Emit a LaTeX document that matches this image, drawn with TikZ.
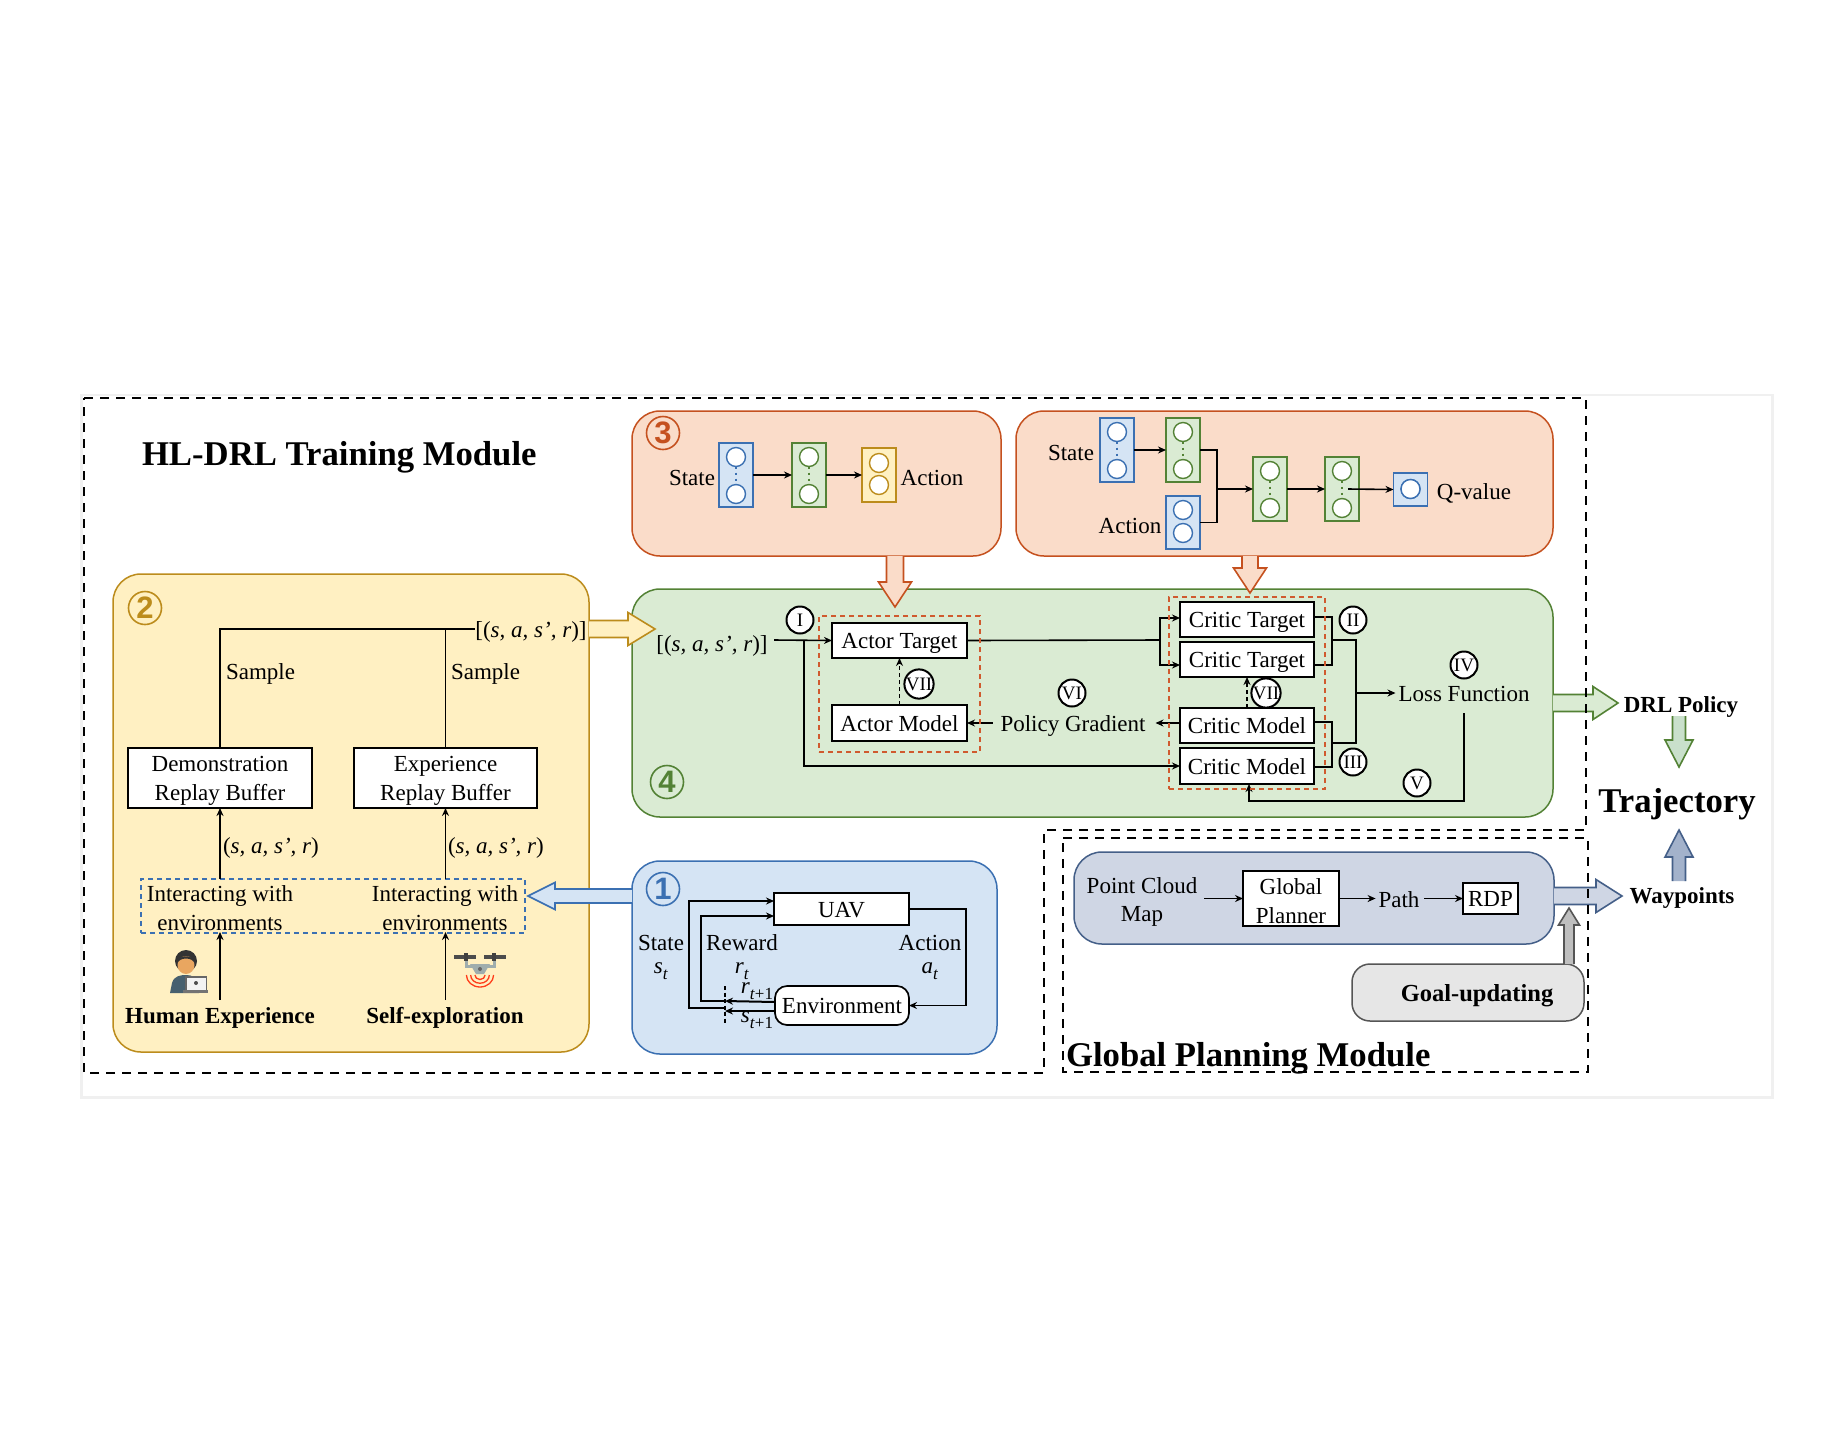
\documentclass[tikz,border=0pt]{standalone}
\usepackage{fontspec}
\setmainfont{Liberation Serif}
\newfontfamily\numfont{Liberation Sans}
\usetikzlibrary{arrows.meta,calc,shapes.geometric}
\definecolor{yelF}{HTML}{FFF0C2}\definecolor{yelD}{HTML}{BC8C1C}
\definecolor{oraF}{HTML}{FADCC9}\definecolor{oraD}{HTML}{C5511F}
\definecolor{greF}{HTML}{DAEBD3}\definecolor{greD}{HTML}{538235}
\definecolor{bluF}{HTML}{D5E4F4}\definecolor{bluD}{HTML}{3B70B2}
\definecolor{plaF}{HTML}{CFD6E4}\definecolor{plaD}{HTML}{445F88}
\definecolor{gryF}{HTML}{E6E6E6}\definecolor{gryD}{HTML}{555555}
\definecolor{traF}{HTML}{C9E0CB}\definecolor{upF}{HTML}{A3B2CB}
\definecolor{redD}{HTML}{D05A2E}
\newcommand{\fsz}[1]{\fontsize{#1}{#1}\selectfont}
\newcommand{\sbs}[1]{\smash{\raisebox{-0.28em}{\fontsize{17}{17}\selectfont #1}}}
\newcommand{\tup}{(\textit{s, a, s’, r})}
\newcommand{\lifted}{\rule{0pt}{21pt}}
\tikzset{
 x=1pt,y=-1pt,
 txt/.style={inner sep=0pt,outer sep=0pt,align=center,text height=17pt,text depth=1pt,font=\fontsize{23}{28.5}\selectfont},
 ml/.style={text height={},text depth={}},
 btxt/.style={txt,font=\fontsize{23}{29}\selectfont\bfseries},
 title/.style={txt,text height=24pt,text depth=1pt,font=\fontsize{34.7}{35}\selectfont\bfseries},
 bx/.style={draw=black,fill=white,line width=1.7pt,inner sep=0pt,outer sep=0pt,align=center,text height=17pt,text depth=1pt,font=\fontsize{23}{28.5}\selectfont},
 panel/.style={draw=#1D,fill=#1F,line width=1.5pt,rounded corners=28pt,inner sep=0pt,outer sep=0pt},
 arr/.style={-{Stealth[length=8pt,width=7pt]},line width=1.6pt,black},
 lin/.style={line width=1.6pt,black},
 dash arr/.style={arr,dash pattern=on 4pt off 3pt},
 outerdash/.style={line width=2.6pt,dash pattern=on 9pt off 7pt,black},
 reddash/.style={draw=redD,line width=1.5pt,dash pattern=on 5pt off 4pt},
 circ/.style={circle,draw=#1D,text=#1D,fill=none,line width=1.6pt,minimum size=33pt,inner sep=0pt,font=\fsz{31}\numfont\bfseries},
 rom/.style={circle,draw=black,fill=white,line width=2pt,minimum size=27pt,inner sep=0pt,font=\fsz{19}},
 nnb/.style={draw=#1D,fill=#1F,line width=1.6pt,minimum width=34pt,inner sep=0pt,outer sep=0pt},
 nnc/.style={circle,draw=#1D,fill=white,line width=1.4pt,minimum size=19pt,inner sep=0pt,outer sep=0pt},
}
% name, cx, y0, y1, cy1, cy2, colour
\newcommand{\nnlayer}[7]{%
 \node[nnb=#7,minimum height={#4-#3}] (#1) at ({#2},{(#3+#4)/2}) {};
 \node[nnc=#7] (#1a) at (#2,#5) {};
 \node[nnc=#7] (#1b) at (#2,#6) {};}
% style, start, tip, half shaft, half head, head length
\newcommand{\blockarr}[6]{%
 \coordinate (ba) at ($(#3)!#6pt!(#2)$);
 \fill[#1,draw=none] ($(#2)!#4pt!90:(#3)$) -- ($(ba)!#4pt!90:(#3)$) -- ($(ba)!#5pt!90:(#3)$) -- (#3)
  -- ($(ba)!#5pt!-90:(#3)$) -- ($(ba)!#4pt!-90:(#3)$) -- ($(#2)!#4pt!-90:(#3)$) -- cycle;
 \draw[#1,fill=none,line width=1.6pt,line join=miter]
  ($(#2)!#4pt!90:(#3)$) -- ($(ba)!#4pt!90:(#3)$) -- ($(ba)!#5pt!90:(#3)$) -- (#3)
  -- ($(ba)!#5pt!-90:(#3)$) -- ($(ba)!#4pt!-90:(#3)$) -- ($(#2)!#4pt!-90:(#3)$);}
\begin{document}
\begin{tikzpicture}
\useasboundingbox (0,0) rectangle (1848,1444);
\fill[white] (0,0) rectangle (1848,1444);
% sheet
\fill[black!6] (80,394) rectangle (1774,1099);
\fill[white] (83,396) rectangle (1771,1096);

% panels
\node[panel=yel,minimum width=476pt,minimum height=478pt] (box2) at (351,813) {};
\node[panel=ora,minimum width=369pt,minimum height=145pt] (box3a) at (816.5,483.5) {};
\node[panel=ora,minimum width=537pt,minimum height=145pt] (box3b) at (1284.5,483.5) {};
\node[panel=gre,minimum width=921pt,minimum height=228pt] (box4) at (1092.5,703) {};
\node[panel=blu,minimum width=365pt,minimum height=193pt] (box1) at (814.5,957.5) {};
\node[panel=pla,minimum width=480pt,minimum height=92pt] (boxp) at (1314,898) {};
\node[draw=gryD,fill=gryF,line width=1.5pt,rounded corners=18pt,minimum width=232pt,minimum height=57pt,inner sep=0pt,outer sep=0pt] (goal) at (1468,992.5) {};

% titles
\node[title,anchor=west] (t1) at (142,453.5) {HL-DRL Training Module};
\node[title,anchor=west] (t2) at (1066,1055) {Global Planning Module};
\node[title] (traj) at (1677,801) {Trajectory};
\node[btxt] (drl) at (1681,704) {DRL Policy};
\node[btxt] (wayp) at (1682,895) {Waypoints};
\node[btxt,font=\fontsize{24.5}{29}\selectfont\bfseries] (goalt) at (1477,993) {Goal-updating};

% circled numbers
\node[circ=blu] (n1) at (663,889) {1};
\node[circ=yel] (n2) at (145,608) {2};
\node[circ=ora] (n3) at (663,433) {3};
\node[circ=gre] (n4) at (667,782) {4};

%%% panel 2
\node[txt] (list2) at (531,629) {[\tup]};
\node[bx,ml,minimum width=184pt,minimum height=60pt] (demo) at (220,778) {\lifted Demonstration\\Replay Buffer};
\node[bx,ml,minimum width=183pt,minimum height=60pt] (expb) at (445.5,778) {\lifted Experience\\Replay Buffer};
\node[txt,anchor=west] (sa) at (226,671) {Sample};
\node[txt,anchor=west] (sb) at (451,671) {Sample};
\node[txt,anchor=west] (ta) at (223,845) {\tup};
\node[txt,anchor=west] (tb) at (448,845) {\tup};
\node[draw=bluD,line width=1.4pt,dash pattern=on 5pt off 4pt,minimum width=384pt,minimum height=54pt,inner sep=0pt,outer sep=0pt] (inter) at (333,906) {};
\node[txt,ml] (ia) at (220,908) {Interacting with\\environments};
\node[txt,ml] (ib) at (445,908) {Interacting with\\environments};
\node[btxt] (hum) at (220,1015) {Human Experience};
\node[btxt] (self) at (445,1015) {Self-exploration};
\draw[lin] (demo.north) |- (list2.west);
\draw[lin] (expb.north) -- (expb.north |- list2.west);
\draw[arr] (demo.south |- inter.north) -- (demo.south);
\draw[arr] (expb.south |- inter.north) -- (expb.south);
\draw[arr] ([yshift=6pt]hum.north -| demo.south) -- ([yshift=1pt]demo.south |- inter.south);
\draw[arr] ([yshift=6pt]self.north -| expb.south) -- ([yshift=1pt]expb.south |- inter.south);

% person icon
\definecolor{skinC}{HTML}{E9A660}\definecolor{hairC}{HTML}{333333}\definecolor{shirtC}{HTML}{47606F}
\fill[shirtC] (170,993) -- (172,983) .. controls (174,976) and (180,975) .. (186,975) .. controls (192,975) and (197,977) .. (199,985) -- (199,993) -- cycle;
\fill[hairC] (186,961) circle (11);
\fill[skinC] (186,965) ellipse (8.5 and 9);
\fill[hairC] (177.5,963) .. controls (180,957) and (192,957) .. (194.5,963) .. controls (196,954) and (176,954) .. (177.5,963) -- cycle;
\fill[black!60] (185,976) rectangle (207,991);
\fill[black!5] (187,978) rectangle (206,990);
\fill[black!70] (196,983) circle (2);
\fill[black!55] (183,990) rectangle (208,993);
% drone icon
\definecolor{armC}{HTML}{9FADAD}
\draw[line width=3pt,armC] (466,958) -- (466,966) -- (494,966) -- (494,958);
\fill[armC] (470,964) -- (490,964) -- (484,974) -- (476,974) -- cycle;
\fill[black!70] (454,955) rectangle (476,959);
\fill[black!70] (484,955) rectangle (506,959);
\fill[black!75] (464,953) rectangle (468,961);
\fill[black!75] (492,953) rectangle (496,961);
\fill[black!60] (480,969) circle (2);
\foreach \r in {6,11,16}{\draw[red!70!orange!90!white,line width=1.3pt] (480-\r*0.85,975) arc (180:360:\r*0.85 and -\r*0.75);}

%%% panel 3a
\node[txt] (sta) at (692,477) {State};
\nnlayer{a1}{736}{443}{507}{457}{494}{blu}
\nnlayer{a2}{809}{443}{507}{457}{494}{gre}
\nnlayer{a3}{879}{448}{502}{463}{485}{yel}
\draw[bluD,line width=1.8pt,dash pattern=on 2pt off 4pt] (a1a) -- (a1b);
\draw[greD,line width=1.8pt,dash pattern=on 2pt off 4pt] (a2a) -- (a2b);
\node[txt] (act) at (932,477) {Action};
\draw[arr] (a1.east) -- (a2.west);
\draw[arr] (a2.east) -- (a3.west);

%%% panel 3b
\node[txt] (stb) at (1071,452) {State};
\node[txt] (acb) at (1130,525) {Action};
\nnlayer{b1}{1117}{418}{482}{432}{469}{blu}
\nnlayer{b2}{1183}{418}{482}{432}{469}{gre}
\nnlayer{b3}{1183}{496}{549}{510}{533}{blu}
\nnlayer{b4}{1270}{457}{521}{471}{508}{gre}
\nnlayer{b5}{1342}{457}{521}{471}{508}{gre}
\nnlayer{b6}{1410.5}{473}{506}{489}{489}{blu}
\draw[bluD,line width=1.8pt,dash pattern=on 2pt off 4pt] (b1a) -- (b1b);
\draw[greD,line width=1.8pt,dash pattern=on 2pt off 4pt] (b2a) -- (b2b);
\draw[greD,line width=1.8pt,dash pattern=on 2pt off 4pt] (b4a) -- (b4b);
\draw[greD,line width=1.8pt,dash pattern=on 2pt off 4pt] (b5a) -- (b5b);
\node[txt] (qv) at (1474,491) {Q-value};
\coordinate (jn) at (1217,489);
\draw[arr] (b1.east) -- (b2.west);
\draw[lin] (b2.east) -| (jn);
\draw[lin] (b3.east) -| (jn);
\draw[arr] (jn) -- (b4.west);
\draw[arr] (b4.east) -- (b5.west);
\draw[arr] ([xshift=-11pt]b5.east) -- (b6.west);

%%% panel 4
\node[txt] (list4) at (712,643) {[\tup]};
\node[bx,minimum width=135pt,minimum height=35pt] (at) at (899.5,640.5) {Actor Target};
\node[bx,minimum width=135pt,minimum height=36pt] (am) at (899.5,723) {Actor Model};
\node[bx,minimum width=134pt,minimum height=35pt] (ct1) at (1247,619.5) {Critic Target};
\node[bx,minimum width=134pt,minimum height=35pt] (ct2) at (1247,659.5) {Critic Target};
\node[bx,minimum width=134pt,minimum height=35pt] (cm1) at (1247,725.5) {Critic Model};
\node[bx,minimum width=134pt,minimum height=36pt] (cm2) at (1247,766) {Critic Model};
\node[txt] (pg) at (1073,723) {Policy Gradient};
\node[txt] (loss) at (1464,693) {Loss Function};
\node[rom] (r1) at (800,620) {I};
\node[rom] (r7a) at (919,684) {VII};
\node[rom] (r6) at (1072,693) {VI};
\node[rom] (r2) at (1353,620) {II};
\node[rom] (r3) at (1353,762) {III};
\node[rom] (r4) at (1464,665) {IV};
\node[rom] (r5) at (1417,783) {V};
\coordinate (l4e) at (774,640);
\coordinate (jS) at (804,640);
\coordinate (jA) at (1160,640);
\coordinate (jT) at (1332,640);
\coordinate (jR) at (1356,693);
\coordinate (jM) at (1332,743);
\coordinate (lb) at (1249,801);
\draw[arr] (l4e) -- (at.west);
\draw[arr] (jS) |- (cm2.west);
\draw[lin] (at.east) -- (jA);
\draw[arr] (jA) |- ([yshift=1.5pt]ct1.west);
\draw[arr] (jA) |- ([yshift=-5.5pt]ct2.west);
\draw[lin] ([yshift=2.5pt]ct1.east) -- ++(18,0) |- ([yshift=-5.5pt]ct2.east);
\draw[lin] ([yshift=3.5pt]cm1.east) -- ++(18,0) |- ([yshift=-1pt]cm2.east);
\draw[lin] (jT) -| (jR) |- (jM);
\draw[arr] (jR) -- ([xshift=-3pt]loss.west);
\draw[arr] ([yshift=-11pt]loss.south) |- (lb) -- ([xshift=2pt]cm2.south);
\draw[arr] ([xshift=-8pt]pg.west) -- (pg.west -| am.east);
\draw[arr] (pg.east -| cm1.west) -- ([xshift=10pt]pg.east);
\draw[dash arr] (am.north) -- (at.south);
\draw[dash arr] (cm1.north) -- (ct2.south);
\node[rom] (r7b) at (1266,693) {VII};
\node[reddash,minimum width=161pt,minimum height=136pt,inner sep=0pt] (ra) at (899.5,684) {};
\node[reddash,minimum width=156pt,minimum height=192pt,inner sep=0pt] (rb) at (1247,693) {};

%%% panel 1
\node[bx,minimum width=135pt,minimum height=32pt] (uav) at (841.5,909) {UAV};
\node[bx,rounded corners=12pt,minimum width=134pt,minimum height=39pt] (env) at (842,1005.5) {Environment};
\node[txt,ml,font=\fontsize{23}{23}\selectfont] (st) at (661,954) {State\\\textit{s}\sbs{\textit{t}}};
\node[txt,ml,font=\fontsize{23}{23}\selectfont] (rw) at (742,954) {Reward\\\textit{r}\sbs{\textit{t}}};
\node[txt,ml,font=\fontsize{23}{23}\selectfont] (ac) at (930,954) {Action\\\textit{a}\sbs{\textit{t}}};
\node[txt,anchor=east] (rt1) at (773,985) {\textit{r}\sbs{\textit{t}+1}};
\node[txt,anchor=east] (st1) at (773,1014) {\textit{s}\sbs{\textit{t}+1}};
\coordinate (dt) at (725,986);
\coordinate (db) at (725,1023);
\coordinate (jo) at (725,1008);
\coordinate (ji) at (725,1001);
\coordinate (js) at (725,1011);
\draw[line width=1.2pt,black,dash pattern=on 4pt off 2.5pt] (dt) -- (db);
\draw[arr,line width=2pt] ([yshift=3.5pt]env.west) -- (ji);
\draw[arr,line width=2pt] ([yshift=-5.5pt]env.west) -- (js);
\draw[arr] (jo) -- ++(-36,0) |- ([yshift=8pt]uav.west);
\draw[arr] (ji) -- ++(-24,0) |- ([yshift=-7pt]uav.west);
\draw[arr] (uav.east) -- ++(57,0) |- (env.east);

%%% planning panel
\node[txt,ml] (pc) at (1142,902) {Point Cloud\\Map};
\node[bx,ml,minimum width=96pt,minimum height=55pt] (gp) at (1291,898.5) {\lifted Global\\Planner};
\node[txt] (pth) at (1399,899) {Path};
\node[bx,minimum width=55pt,minimum height=31pt] (rdp) at (1490.5,898.5) {RDP};
\draw[arr] ([xshift=7pt]pc.east |- gp.west) -- (gp.west);
\draw[arr] (gp.east) -- ([xshift=-3pt]pth.west |- gp.east);
\draw[arr] ([xshift=5pt]pth.east |- gp.east) -- (rdp.west);

%%% block arrows
\coordinate (ya) at (589,629); \coordinate (yb) at (655,629);
\coordinate (ba1) at (632,896); \coordinate (bb1) at (528,896);
\coordinate (oa) at (895,556); \coordinate (ob) at (895,607);
\coordinate (oc) at (1250,556); \coordinate (od) at (1250,593);
\coordinate (ga) at (1553,703); \coordinate (gb) at (1618,703);
\coordinate (pa) at (1554,896); \coordinate (pb) at (1622,896);
\coordinate (da) at (1679,716); \coordinate (db2) at (1679,767);
\coordinate (ua) at (1679,881); \coordinate (ub) at (1679,830);
\coordinate (gu1) at (1569,964); \coordinate (gu2) at (1569,908);
\blockarr{draw=yelD,fill=yelF}{ya}{yb}{8.5}{16.5}{27}
\blockarr{draw=bluD,fill=bluF}{ba1}{bb1}{7}{13.5}{27}
\blockarr{draw=oraD,fill=oraF}{oa}{ob}{8.5}{16.5}{25}
\blockarr{draw=oraD,fill=oraF}{oc}{od}{8}{16.5}{25}
\blockarr{draw=greD,fill=greF}{ga}{gb}{8.5}{16.5}{25}
\blockarr{draw=plaD,fill=plaF}{pa}{pb}{8.5}{16.5}{26}
\blockarr{draw=greD,fill=traF}{da}{db2}{6.5}{14}{27}
\blockarr{draw=plaD,fill=upF}{ua}{ub}{6.5}{14}{27}
\blockarr{draw=gryD,fill=black!25}{gu1}{gu2}{5}{10.5}{17}

%%% module frames
\coordinate (f1) at (84,398); \coordinate (f2) at (1586,398); \coordinate (f3) at (1586,830);
\coordinate (f4) at (1044,830); \coordinate (f5) at (1044,1073); \coordinate (f6) at (84,1073);
\draw[outerdash] (f1) -- (f2) -- (f3) -- (f4) -- (f5) -- (f6) -- cycle;
\coordinate (g1) at (1063,838); \coordinate (g2) at (1588,838); \coordinate (g3) at (1588,1072); \coordinate (g4) at (1063,1072);
\draw[outerdash] (g1) -- (g2) -- (g3) -- (g4) -- cycle;
\end{tikzpicture}
\end{document}
